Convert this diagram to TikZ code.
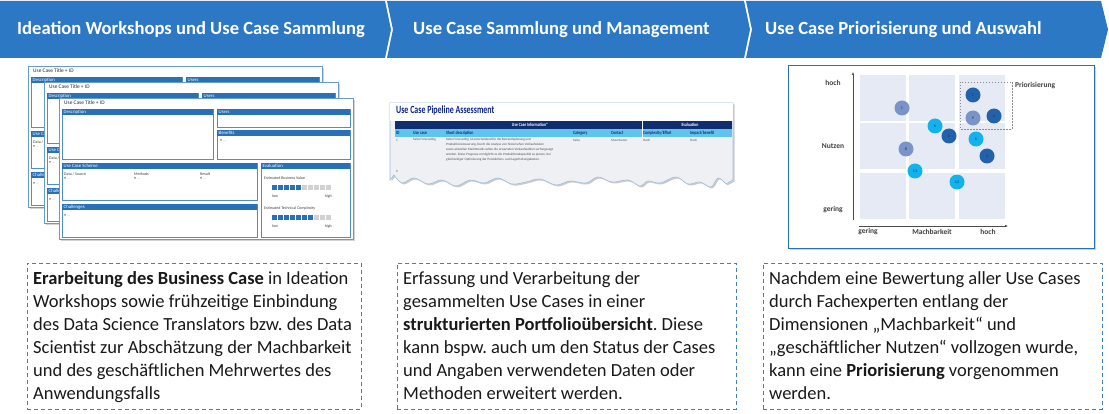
\documentclass[tikz,border=0pt]{standalone}
\usepackage{fontspec}
\setmainfont{Carlito}
\frenchspacing
\usetikzlibrary{shadows,arrows.meta}

\definecolor{headblue}{RGB}{44,120,196}
\definecolor{dashblue}{RGB}{66,128,188}
\definecolor{sheetblue}{RGB}{40,112,184}
\definecolor{navy}{RGB}{16,46,110}
\definecolor{skyrow}{RGB}{96,196,240}
\definecolor{rowgray}{RGB}{238,240,244}
\definecolor{cellfill}{RGB}{230,234,244}
\definecolor{darkdot}{RGB}{34,98,170}
\definecolor{middot}{RGB}{122,148,200}
\definecolor{cyandot}{RGB}{18,178,236}
\definecolor{bodytext}{RGB}{25,25,25}

\tikzset{
  headtext/.style={anchor=west, inner sep=0pt, text=white,
    font=\fontsize{18.6}{21}\selectfont\bfseries},
  notebox/.style={draw=dashblue, dash pattern=on 4pt off 3pt, line width=0.9pt,
    anchor=north west, inner sep=0pt},
  notetext/.style={anchor=north west, inner sep=0pt, align=left, text=bodytext,
    font=\fontsize{18.5}{23}\selectfont},
  sheet/.style={draw=sheetblue!70, line width=0.6pt, fill=white, anchor=north west,
    inner sep=0pt, minimum width=294pt, minimum height=141pt,
    drop shadow={shadow xshift=1.5pt, shadow yshift=-1.5pt, opacity=0.35}},
  panel/.style={draw=sheetblue!80, line width=0.4pt},
  barlabel/.style={anchor=west, inner sep=0pt, text=white, font=\fontsize{4.8}{5}\selectfont},
  titletext/.style={anchor=west, inner sep=0pt, text=black!85, font=\fontsize{5.4}{6}\selectfont},
  tinytext/.style={anchor=west, inner sep=0pt, text=black!75, font=\fontsize{4}{4.5}\selectfont},
  tabtitle/.style={anchor=west, inner sep=0pt, text=navy!80!blue, xscale=0.72, transform shape,
    font=\fontsize{11}{12}\selectfont\bfseries},
  tabhead/.style={inner sep=0pt, text=white, xscale=0.8, transform shape,
    font=\fontsize{4.8}{5}\selectfont\bfseries},
  tabcol/.style={anchor=west, inner sep=0pt, text=navy, xscale=0.8, transform shape,
    font=\fontsize{4.8}{5}\selectfont\bfseries},
  tabcell/.style={anchor=west, inner sep=0pt, text=black!70, font=\fontsize{3.3}{5}\selectfont},
  axislabel/.style={inner sep=0pt, text=black!75, font=\fontsize{7.5}{9}\selectfont\bfseries},
  axis/.style={draw=black!70, line width=0.5pt, -{Latex[length=3pt,width=2.5pt]}},
  dot/.style={circle, minimum size=15pt, inner sep=0pt, text=navy,
    font=\fontsize{4}{4}\selectfont},
  priobox/.style={draw=black!45, dash pattern=on 1.5pt off 1.5pt, line width=0.5pt}
}

\newcommand{\ucpanel}[6]{%
  \draw[panel] (#1,#2) rectangle (#3,#4);
  \fill[sheetblue] (#1,#2) rectangle (#3,#2+6);
  \node[barlabel] (#6) at (#1+1.5,#2+3) {#5};
}

% #4: extra content, only on the sheet in front
\newcommand{\ucsheet}[4]{%
\begin{scope}[shift={(#1,#2)}]
  \node[sheet] (#3) at (0,0) {};
  \node[titletext] (#3-title) at (5,5) {Use Case Title + ID};
  \ucpanel{3}{11}{154}{61}{Description}{#3-desc}
  \node[tinytext, text=black!40] (#3-desc-t) at (5,22) {--};
  \ucpanel{158}{11}{291}{29}{Users}{#3-users}
  \ucpanel{3}{65}{198}{102}{Use Case Scheme}{#3-scheme}
  \node[tinytext] (#3-data) at (5,76) {Data / Source};
  \node[tinytext] (#3-data-t) at (5,81) {\textbullet\ \textcolor{black!40}{…}};
  \ucpanel{3}{106}{198}{139}{Challenges}{#3-chal}
  \node[tinytext] (#3-chal-t) at (5,118) {\textbullet\ \textcolor{black!40}{…}};
  #4
\end{scope}}

\newcommand{\ucdetails}[1]{%
  \node[tinytext, text=black!40] (#1-users-t) at (161,22) {--};
  \ucpanel{158}{32}{291}{61}{Benefits}{#1-ben}
  \node[tinytext] (#1-ben-t) at (161,43) {\textbullet\ \textcolor{black!40}{…}};
  \node[tinytext] (#1-meth) at (75,76) {Methods};
  \node[tinytext] (#1-res) at (141,76) {Result};
  \node[tinytext] (#1-meth-t) at (75,81) {\textbullet\ \textcolor{black!40}{…}};
  \node[tinytext] (#1-res-t) at (141,81) {\textbullet\ \textcolor{black!40}{…}};
  \ucpanel{202}{65}{291}{139}{Evaluation}{#1-eval}
  \node[tinytext] (#1-bv) at (205,80) {Estimated Business Value};
  \foreach \i in {0,...,4} \fill[sheetblue] (213+\i*6,87.5) rectangle +(5,5);
  \foreach \i in {5,...,9} \fill[black!18] (213+\i*6,87.5) rectangle +(5,5);
  \node[tinytext] (#1-bv-lo) at (213,98) {low};
  \node[tinytext, anchor=east] (#1-bv-hi) at (273,98) {high};
  \node[tinytext] (#1-tc) at (205,110) {Estimated Technical Complexity};
  \foreach \i in {0,...,6} \fill[sheetblue] (213+\i*6,117.5) rectangle +(5,5);
  \foreach \i in {7,...,9} \fill[black!18] (213+\i*6,117.5) rectangle +(5,5);
  \node[tinytext] (#1-tc-lo) at (213,128) {low};
  \node[tinytext, anchor=east] (#1-tc-hi) at (273,128) {high};
}

\begin{document}
\begin{tikzpicture}[x=1pt, y=-1pt]
\useasboundingbox (0,0) rectangle (1109,414);

% phase bar
\fill[headblue] (0,1) -- (385,1) -- (391,29.5) -- (385,58) -- (0,58) -- cycle;
\fill[headblue] (387,1) -- (744,1) -- (750,29.5) -- (744,58) -- (387,58) -- (393,29.5) -- cycle;
\fill[headblue] (746,1) -- (1101,1) -- (1108,29.5) -- (1101,58) -- (746,58) -- (752,29.5) -- cycle;
\node[headtext] (head1) at (17,30) {Ideation Workshops und Use Case Sammlung};
\node[headtext] (head2) at (413,30) {Use Case Sammlung und Management};
\node[headtext] (head3) at (765,30) {Use Case Priorisierung und Auswahl};

% use case sheets
\ucsheet{28}{66}{sheetA}{}
\ucsheet{44}{82}{sheetB}{}
\ucsheet{59}{98}{sheetC}{\ucdetails{sheetC}}

% pipeline table
\draw[draw=sheetblue!45, line width=0.6pt, fill=rowgray,
  drop shadow={shadow xshift=1.5pt, shadow yshift=-1.5pt, opacity=0.4}]
  (390,103) -- (733,103) -- (733,180) -- plot[smooth, tension=0.6] coordinates {
  (726,184) (718,178) (711,187) (700,182) (688,184) (676,177) (660,183) (648,181)
  (640,186) (628,180) (612,182) (598,177) (586,183) (570,181) (556,185) (540,179)
  (526,182) (512,184) (498,178) (484,183) (470,180) (456,186) (442,180) (428,184)
  (414,178) (402,183) (394,175)} -- (390,180) -- cycle;
\fill[white] (390.4,103.4) rectangle (732.6,121);
\node[tabtitle] (tabtitle) at (396,111) {Use Case Pipeline Assessment};
\fill[navy] (395,121) rectangle (732,129);
\fill[skyrow] (395,129) rectangle (732,137);
\draw[white, line width=0.6pt] (642,121) -- (642,137);
\node[tabhead] (info) at (530,125) {Use Case Information*};
\node[tabhead] (evalhead) at (690,125) {Evaluation};
\node[tabcol] (colid) at (396,133) {ID};
\node[tabcol] (colcase) at (413,133) {Use case};
\node[tabcol] (coldesc) at (446,133) {Short description};
\node[tabcol] (colcat) at (573,133) {Category};
\node[tabcol] (colcon) at (611,133) {Contact};
\node[tabcol] (colcom) at (643,133) {Complexity/Effort};
\node[tabcol] (colimp) at (690,133) {Impact/benefit};
\node[tabcell] (r1id) at (396,140) {1};
\node[tabcell] (r1case) at (413,140) {Sales Forecasting};
\node[tabcell, anchor=north west, align=left] (r1desc) at (446,138.5) {Sales Forecasting ist entscheidend für die Bestandsplanung und\\
Produktionssteuerung. Durch die Analyse von historischen Verkaufsdaten\\
sowie aktuellen Markttrends sollen die erwarteten Verkaufszahlen vorhergesagt\\
werden. Diese Prognose ermöglicht es die Produktionskapazität zu planen, bei\\
gleichzeitiger Optimierung der Produktions- und Lagerhaltungskosten.};
\node[tabcell] (r1cat) at (573,140) {Sales};
\node[tabcell] (r1con) at (611,140) {Max Muster};
\node[tabcell] (r1com) at (643,140) {Hoch};
\node[tabcell] (r1imp) at (690,140) {Hoch};
\node[tabcell] (r2id) at (396,171) {2};

% priorisation matrix
\node[draw=sheetblue, line width=1.2pt, fill=white, anchor=north west, inner sep=0pt,
  minimum width=306pt, minimum height=183pt,
  drop shadow={shadow xshift=1.5pt, shadow yshift=-1.5pt, opacity=0.35}] (matrix) at (788,65) {};
\foreach \cx in {860,909,959}
  \foreach \cy in {75,123,173}
    \fill[cellfill] (\cx,\cy) rectangle +(46,46);
\coordinate (yfrom) at (853,220);
\coordinate (yto) at (853,72);
\coordinate (xfrom) at (859,226);
\coordinate (xto) at (1008,226);
\draw[axis] (yfrom) -- (yto);
\draw[axis] (xfrom) -- (xto);
\node[axislabel] (yhi) at (833,83) {hoch};
\node[axislabel] (ymid) at (833,146) {Nutzen};
\node[axislabel] (ylo) at (833,210) {gering};
\node[axislabel] (xlo) at (868,232) {gering};
\node[axislabel] (xmid) at (932,232) {Machbarkeit};
\node[axislabel] (xhi) at (988,232) {hoch};
\draw[priobox] (960,82) rectangle (1012,129);
\node[axislabel, anchor=west] (prio) at (1015,86) {Priorisierung};
\foreach \n/\x/\y/\c in {1/902/108/middot, 7/973/95/darkdot, 9/973/118/middot,
  4/994/116/darkdot, 6/935/126/cyandot, 3/949/136/darkdot, 5/976/139/cyandot,
  2/987/156/darkdot, 8/906/149/middot, 11/915/171/cyandot, 12/957/182/cyandot}
  \node[dot, fill=\c] (uc\n) at (\x,\y) {\n};

% description boxes
\node[notebox, minimum width=334pt, minimum height=146pt] (note1) at (27,263) {};
\node[notebox, minimum width=339pt, minimum height=146pt] (note2) at (397,263) {};
\node[notebox, minimum width=339pt, minimum height=146pt] (note3) at (763,263) {};
\node[notetext] (text1) at ([xshift=6pt,yshift=-8pt]note1.north west)
  {\textbf{Erarbeitung des Business Case} in Ideation\\
   Workshops sowie frühzeitige Einbindung\\
   des Data Science Translators bzw. des Data\\
   Scientist zur Abschätzung der Machbarkeit\\
   und des geschäftlichen Mehrwertes des\\
   Anwendungsfalls};
\node[notetext] (text2) at ([xshift=6pt,yshift=-8pt]note2.north west)
  {Erfassung und Verarbeitung der\\
   gesammelten Use Cases in einer\\
   \textbf{strukturierten Portfolioübersicht}. Diese\\
   kann bspw. auch um den Status der Cases\\
   und Angaben verwendeten Daten oder\\
   Methoden erweitert werden.};
\node[notetext] (text3) at ([xshift=6pt,yshift=-8pt]note3.north west)
  {Nachdem eine Bewertung aller Use Cases\\
   durch Fachexperten entlang der\\
   Dimensionen „Machbarkeit“ und\\
   „geschäftlicher Nutzen“ vollzogen wurde,\\
   kann eine \textbf{Priorisierung} vorgenommen\\
   werden.};
\end{tikzpicture}
\end{document}
